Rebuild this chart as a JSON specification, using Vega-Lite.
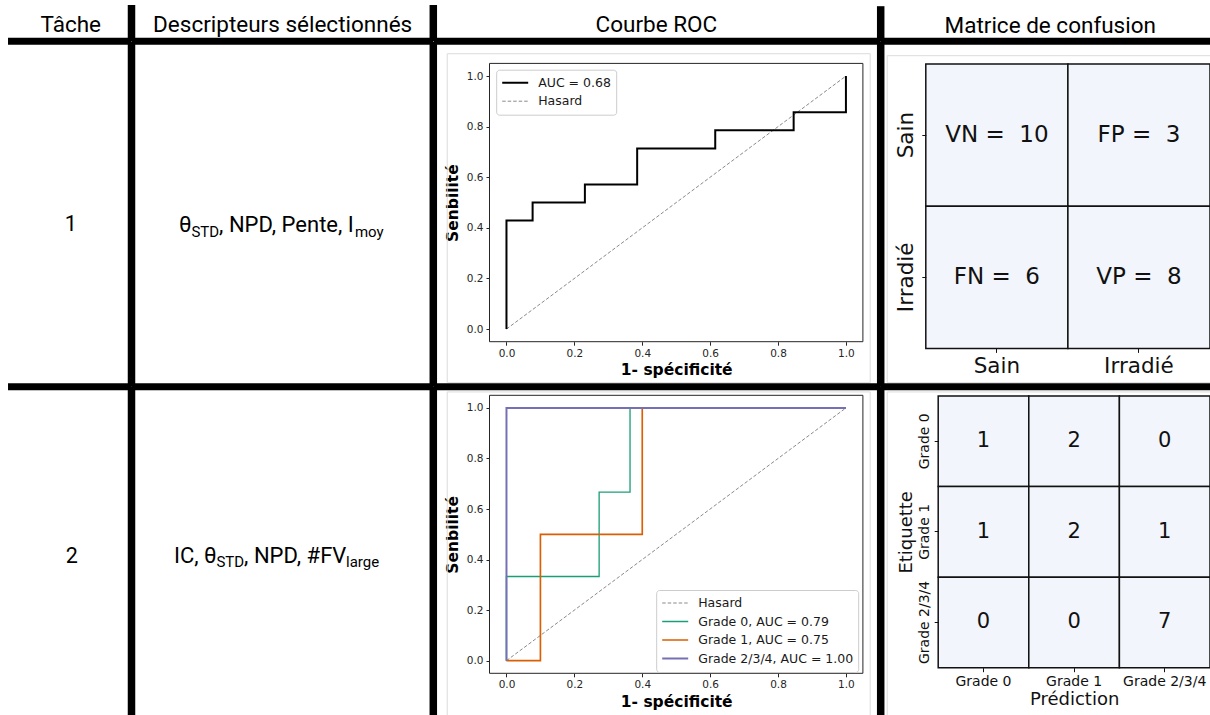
{
 "$schema": "https://vega.github.io/schema/vega-lite/v6.json",
 "background": "white",
 "padding": 0,
 "spacing": 0,
 "bounds": "flush",
 "columns": 4,
 "config": {"view": {"stroke": null}, "font": "DejaVu Sans"},
 "resolve": {
  "scale": {"color": "independent", "strokeDash": "independent", "strokeWidth": "independent"},
  "legend": {"color": "independent", "strokeDash": "independent", "strokeWidth": "independent"}
 },
 "concat": [
  {
   "width": 131.5, "height": 41.3,
   "data": {"values": [{"entete": "Tâche"}]},
   "layer": [
    {"mark": {"type": "text", "font": "Roboto", "fontSize": 22.5, "baseline": "alphabetic", "dx": 5, "dy": 11, "color": "black"}, "encoding": {"text": {"field": "entete"}}},
    {"mark": {"type": "rule", "strokeWidth": 7.5, "color": "black"}, "encoding": {"x": {"datum": 1, "type": "quantitative", "scale": {"domain": [0, 1], "nice": false, "zero": false}, "axis": null}, "y": {"datum": 0, "type": "quantitative", "scale": {"domain": [0, 1], "nice": false, "zero": false}, "axis": null}, "y2": {"datum": 0.879}}},
    {"mark": {"type": "rule", "strokeWidth": 7, "color": "black"}, "encoding": {"y": {"datum": 0, "type": "quantitative"}, "x": {"datum": 0.061, "type": "quantitative"}, "x2": {"datum": 1}}}
   ]
  },
  {
   "width": 301.3, "height": 41.3,
   "data": {"values": [{"entete": "Descripteurs sélectionnés"}]},
   "layer": [
    {"mark": {"type": "text", "font": "Roboto", "fontSize": 22.5, "baseline": "alphabetic", "dx": 0, "dy": 11, "color": "black"}, "encoding": {"text": {"field": "entete"}}},
    {"mark": {"type": "rule", "strokeWidth": 7.5, "color": "black"}, "encoding": {"x": {"datum": 1, "type": "quantitative", "scale": {"domain": [0, 1], "nice": false, "zero": false}, "axis": null}, "y": {"datum": 0, "type": "quantitative", "scale": {"domain": [0, 1], "nice": false, "zero": false}, "axis": null}, "y2": {"datum": 0.879}}},
    {"mark": {"type": "rule", "strokeWidth": 7, "color": "black"}, "encoding": {"y": {"datum": 0, "type": "quantitative"}}}
   ]
  },
  {
   "width": 446.7, "height": 41.3,
   "data": {"values": [{"entete": "Courbe ROC"}]},
   "layer": [
    {"mark": {"type": "text", "font": "Roboto", "fontSize": 22.5, "baseline": "alphabetic", "dx": -1, "dy": 11, "color": "black"}, "encoding": {"text": {"field": "entete"}}},
    {"mark": {"type": "rule", "strokeWidth": 7.5, "color": "black"}, "encoding": {"x": {"datum": 1, "type": "quantitative", "scale": {"domain": [0, 1], "nice": false, "zero": false}, "axis": null}, "y": {"datum": 0, "type": "quantitative", "scale": {"domain": [0, 1], "nice": false, "zero": false}, "axis": null}, "y2": {"datum": 0.85}}},
    {"mark": {"type": "rule", "strokeWidth": 7, "color": "black"}, "encoding": {"y": {"datum": 0, "type": "quantitative"}}}
   ]
  },
  {
   "width": 330.5, "height": 41.3,
   "data": {"values": [{"entete": "Matrice de confusion"}]},
   "layer": [
    {"mark": {"type": "text", "font": "Roboto", "fontSize": 22.5, "baseline": "alphabetic", "dx": 4, "dy": 12.8, "color": "black"}, "encoding": {"text": {"field": "entete"}}},
    {"mark": {"type": "rule", "strokeWidth": 7, "color": "black"}, "encoding": {"y": {"datum": 0, "type": "quantitative", "scale": {"domain": [0, 1], "nice": false, "zero": false}, "axis": null}}}
   ]
  },
  {
   "width": 131.5, "height": 344.7,
   "data": {"values": [{"tache": "1"}]},
   "layer": [
    {"mark": {"type": "text", "font": "Roboto", "fontSize": 21.5, "baseline": "alphabetic", "dx": 5, "dy": 16.65, "color": "black"}, "encoding": {"text": {"field": "tache"}}},
    {"mark": {"type": "rule", "strokeWidth": 7.5, "color": "black"}, "encoding": {"x": {"datum": 1, "type": "quantitative", "scale": {"domain": [0, 1], "nice": false, "zero": false}, "axis": null}}},
    {"mark": {"type": "rule", "strokeWidth": 7, "color": "black"}, "encoding": {"y": {"datum": 0, "type": "quantitative", "scale": {"domain": [0, 1], "nice": false, "zero": false}, "axis": null}, "x": {"datum": 0.061, "type": "quantitative"}, "x2": {"datum": 1}}}
   ]
  },
  {
   "width": 301.3, "height": 344.7,
   "data": {"values": [{"a": "θ", "b": "STD", "c": ", NPD, Pente, I", "d": "moy"}]},
   "layer": [
    {"mark": {"type": "text", "font": "Roboto", "fontSize": 22, "align": "left", "baseline": "alphabetic", "dx": -103.55, "dy": 17.85, "color": "black"}, "encoding": {"text": {"field": "a"}}},
    {"mark": {"type": "text", "font": "Roboto", "fontSize": 15, "align": "left", "baseline": "alphabetic", "dx": -91.25, "dy": 22.35, "color": "black"}, "encoding": {"text": {"field": "b"}}},
    {"mark": {"type": "text", "font": "Roboto", "fontSize": 22, "align": "left", "baseline": "alphabetic", "dx": -63.55, "dy": 17.85, "color": "black"}, "encoding": {"text": {"field": "c"}}},
    {"mark": {"type": "text", "font": "Roboto", "fontSize": 15, "align": "left", "baseline": "alphabetic", "dx": 72.25, "dy": 22.35, "color": "black"}, "encoding": {"text": {"field": "d"}}},
    {"mark": {"type": "rule", "strokeWidth": 7.5, "color": "black"}, "encoding": {"x": {"datum": 1, "type": "quantitative", "scale": {"domain": [0, 1], "nice": false, "zero": false}, "axis": null}}},
    {"mark": {"type": "rule", "strokeWidth": 7, "color": "black"}, "encoding": {"y": {"datum": 0, "type": "quantitative", "scale": {"domain": [0, 1], "nice": false, "zero": false}, "axis": null}}}
   ]
  },
  {
   "width": 446.7, "height": 344.7,
   "resolve": {"scale": {"x": "independent", "y": "independent"}},
   "layer": [
    {
     "data": {"values": [{}]},
     "layer": [
      {"mark": {"type": "rect", "filled": false, "color": "#dcdcdc", "strokeWidth": 1}, "encoding": {"x": {"datum": 0.0296, "type": "quantitative", "scale": {"domain": [0, 1], "nice": false, "zero": false}, "axis": null}, "x2": {"datum": 0.9765}, "y": {"datum": 0.0116, "type": "quantitative", "scale": {"domain": [0, 1], "nice": false, "zero": false}, "axis": null}, "y2": {"datum": 0.966}}},
      {"mark": {"type": "rule", "strokeWidth": 7.5, "color": "black"}, "encoding": {"x": {"datum": 1, "type": "quantitative"}}},
      {"mark": {"type": "rule", "strokeWidth": 7, "color": "black"}, "encoding": {"y": {"datum": 0, "type": "quantitative"}}}
     ]
    },
    {
     "layer": [
      {"data": {"values": [{}]}, "mark": {"type": "rect", "filled": false, "color": "#262626", "strokeWidth": 1},
       "encoding": {
        "x": {"datum": -0.05, "type": "quantitative", "scale": {"domain": [-0.05, 1.05], "range": [55.5, 428.9], "nice": false, "zero": false},
              "axis": {"orient": "bottom", "title": "1- spécificité", "titleFontWeight": "bold", "titleFontSize": 15.5, "titleColor": "black", "titlePadding": 4, "offset": -45, "values": [0, 0.2, 0.4, 0.6, 0.8, 1], "format": ".1f", "labelFontSize": 10.5, "labelColor": "#262626", "tickSize": 3.5, "tickColor": "#262626", "domain": false, "grid": false, "labelPadding": 3, "labelFlush": false, "labelOverlap": false}},
        "x2": {"datum": 1.05},
        "y": {"datum": -0.05, "type": "quantitative", "scale": {"domain": [-0.05, 1.05], "range": [299.7, 21.4], "nice": false, "zero": false},
              "axis": {"orient": "left", "title": "Senbilité", "titleFontWeight": "bold", "titleFontSize": 15.5, "titleColor": "black", "titlePadding": 6, "offset": -55.5, "values": [0, 0.2, 0.4, 0.6, 0.8, 1], "format": ".1f", "labelFontSize": 10.5, "labelColor": "#262626", "tickSize": 3.5, "tickColor": "#262626", "domain": false, "grid": false, "labelPadding": 3, "labelFlush": false, "labelOverlap": false}},
        "y2": {"datum": 1.05}
       }},
      {"data": {"values": [
        {"serie": "Hasard", "i": 0, "fpr": 0, "tpr": 0},
        {"serie": "Hasard", "i": 1, "fpr": 1, "tpr": 1},
        {"serie": "AUC = 0.68", "i": 0, "fpr": 0, "tpr": 0},
        {"serie": "AUC = 0.68", "i": 1, "fpr": 0, "tpr": 0.429},
        {"serie": "AUC = 0.68", "i": 2, "fpr": 0.077, "tpr": 0.429},
        {"serie": "AUC = 0.68", "i": 3, "fpr": 0.077, "tpr": 0.5},
        {"serie": "AUC = 0.68", "i": 4, "fpr": 0.231, "tpr": 0.5},
        {"serie": "AUC = 0.68", "i": 5, "fpr": 0.231, "tpr": 0.571},
        {"serie": "AUC = 0.68", "i": 6, "fpr": 0.385, "tpr": 0.571},
        {"serie": "AUC = 0.68", "i": 7, "fpr": 0.385, "tpr": 0.714},
        {"serie": "AUC = 0.68", "i": 8, "fpr": 0.615, "tpr": 0.714},
        {"serie": "AUC = 0.68", "i": 9, "fpr": 0.615, "tpr": 0.786},
        {"serie": "AUC = 0.68", "i": 10, "fpr": 0.846, "tpr": 0.786},
        {"serie": "AUC = 0.68", "i": 11, "fpr": 0.846, "tpr": 0.857},
        {"serie": "AUC = 0.68", "i": 12, "fpr": 1, "tpr": 0.857},
        {"serie": "AUC = 0.68", "i": 13, "fpr": 1, "tpr": 1}
       ]},
       "mark": {"type": "line"},
       "encoding": {
        "x": {"field": "fpr", "type": "quantitative"},
        "y": {"field": "tpr", "type": "quantitative"},
        "order": {"field": "i", "type": "quantitative"},
        "color": {"field": "serie", "type": "nominal", "scale": {"domain": ["AUC = 0.68", "Hasard"], "range": ["#000000", "#8a8a8a"]},
                  "legend": {"orient": "none", "legendX": 62.2, "legendY": 27.7, "direction": "vertical", "title": null, "symbolType": "stroke", "symbolSize": 676, "labelFontSize": 12.5, "labelColor": "#1a1a1a", "fillColor": "white", "strokeColor": "#cccccc", "cornerRadius": 3, "padding": 5, "rowPadding": 2.5, "labelOffset": 9, "clipHeight": 16}},
        "strokeDash": {"field": "serie", "type": "nominal", "scale": {"domain": ["AUC = 0.68", "Hasard"], "range": [[1, 0], [3.5, 2]]}},
        "strokeWidth": {"field": "serie", "type": "nominal", "scale": {"domain": ["AUC = 0.68", "Hasard"], "range": [2, 1]}}
       }}
     ]
    }
   ]
  },
  {
   "width": 330.5, "height": 344.7,
   "resolve": {"scale": {"x": "independent", "y": "independent"}},
   "layer": [
    {
     "data": {"values": [{}]},
     "layer": [
      {"mark": {"type": "rect", "filled": false, "color": "#dcdcdc", "strokeWidth": 1}, "encoding": {"x": {"datum": 0.0188, "type": "quantitative", "scale": {"domain": [0, 1], "nice": false, "zero": false}, "axis": null}, "x2": {"datum": 1.02}, "y": {"datum": 0.0116, "type": "quantitative", "scale": {"domain": [0, 1], "nice": false, "zero": false}, "axis": null}, "y2": {"datum": 0.9603}}},
      {"mark": {"type": "rule", "strokeWidth": 7, "color": "black"}, "encoding": {"y": {"datum": 0, "type": "quantitative"}}}
     ]
    },
    {
     "data": {"values": [
      {"reel": "Sain", "pred": "Sain", "texte": "VN = \u00a010"},
      {"reel": "Sain", "pred": "Irradié", "texte": "FP = \u00a03"},
      {"reel": "Irradié", "pred": "Sain", "texte": "FN = \u00a06"},
      {"reel": "Irradié", "pred": "Irradié", "texte": "VP = \u00a08"}
     ]},
     "layer": [
      {"mark": {"type": "rect", "fill": "#f2f6fc", "stroke": "#111111", "strokeWidth": 1.5},
       "encoding": {
        "x": {"field": "pred", "type": "nominal", "scale": {"domain": ["Sain", "Irradié"], "range": [44.8, 329], "paddingInner": 0, "paddingOuter": 0},
              "axis": {"orient": "bottom", "offset": -38.3, "title": null, "labelAngle": 0, "labelFontSize": 21.5, "labelColor": "#111111", "tickSize": 4, "tickColor": "#111111", "domain": false, "labelPadding": 3}},
        "y": {"field": "reel", "type": "nominal", "scale": {"domain": ["Sain", "Irradié"], "range": [22, 306.4], "paddingInner": 0, "paddingOuter": 0},
              "axis": {"orient": "left", "offset": -44.8, "title": null, "labelAngle": 270, "labelAlign": "center", "labelBaseline": "bottom", "labelFontSize": 21.5, "labelColor": "#111111", "tickSize": 4, "tickColor": "#111111", "domain": false, "labelPadding": 4}}
       }},
      {"mark": {"type": "text", "fontSize": 23, "color": "#111111"},
       "encoding": {"x": {"field": "pred", "type": "nominal"}, "y": {"field": "reel", "type": "nominal"}, "text": {"field": "texte"}}}
     ]
    }
   ]
  },
  {
   "width": 131.5, "height": 329,
   "data": {"values": [{"tache": "2"}]},
   "layer": [
    {"mark": {"type": "text", "font": "Roboto", "fontSize": 21.5, "baseline": "alphabetic", "dx": 6, "dy": 11, "color": "black"}, "encoding": {"text": {"field": "tache"}}},
    {"mark": {"type": "rule", "strokeWidth": 7.5, "color": "black"}, "encoding": {"x": {"datum": 1, "type": "quantitative", "scale": {"domain": [0, 1], "nice": false, "zero": false}, "axis": null}}}
   ]
  },
  {
   "width": 301.3, "height": 329,
   "data": {"values": [{"a": "IC, θ", "b": "STD", "c": ", NPD, #FV", "d": "large"}]},
   "layer": [
    {"mark": {"type": "text", "font": "Roboto", "fontSize": 22, "align": "left", "baseline": "alphabetic", "dx": -108.75, "dy": 11.2, "color": "black"}, "encoding": {"text": {"field": "a"}}},
    {"mark": {"type": "text", "font": "Roboto", "fontSize": 15, "align": "left", "baseline": "alphabetic", "dx": -66.25, "dy": 15.7, "color": "black"}, "encoding": {"text": {"field": "b"}}},
    {"mark": {"type": "text", "font": "Roboto", "fontSize": 22, "align": "left", "baseline": "alphabetic", "dx": -38.55, "dy": 11.2, "color": "black"}, "encoding": {"text": {"field": "c"}}},
    {"mark": {"type": "text", "font": "Roboto", "fontSize": 15, "align": "left", "baseline": "alphabetic", "dx": 63.35, "dy": 15.7, "color": "black"}, "encoding": {"text": {"field": "d"}}},
    {"mark": {"type": "rule", "strokeWidth": 7.5, "color": "black"}, "encoding": {"x": {"datum": 1, "type": "quantitative", "scale": {"domain": [0, 1], "nice": false, "zero": false}, "axis": null}}}
   ]
  },
  {
   "width": 446.7, "height": 329,
   "resolve": {"scale": {"x": "independent", "y": "independent"}},
   "layer": [
    {
     "data": {"values": [{}]},
     "layer": [
      {"mark": {"type": "rect", "filled": false, "color": "#dcdcdc", "strokeWidth": 1}, "encoding": {"x": {"datum": 0.0296, "type": "quantitative", "scale": {"domain": [0, 1], "nice": false, "zero": false}, "axis": null}, "x2": {"datum": 0.9765}, "y": {"datum": -0.01, "type": "quantitative", "scale": {"domain": [0, 1], "nice": false, "zero": false}, "axis": null}, "y2": {"datum": 0.985}}},
      {"mark": {"type": "rule", "strokeWidth": 7.5, "color": "black"}, "encoding": {"x": {"datum": 1, "type": "quantitative"}}}
     ]
    },
    {
     "layer": [
      {"data": {"values": [{}]}, "mark": {"type": "rect", "filled": false, "color": "#262626", "strokeWidth": 1},
       "encoding": {
        "x": {"datum": -0.05, "type": "quantitative", "scale": {"domain": [-0.05, 1.05], "range": [55.5, 428.9], "nice": false, "zero": false},
              "axis": {"orient": "bottom", "title": "1- spécificité", "titleFontWeight": "bold", "titleFontSize": 15.5, "titleColor": "black", "titlePadding": 4, "offset": -42.7, "values": [0, 0.2, 0.4, 0.6, 0.8, 1], "format": ".1f", "labelFontSize": 10.5, "labelColor": "#262626", "tickSize": 3.5, "tickColor": "#262626", "domain": false, "grid": false, "labelPadding": 3, "labelFlush": false, "labelOverlap": false}},
        "x2": {"datum": 1.05},
        "y": {"datum": -0.05, "type": "quantitative", "scale": {"domain": [-0.05, 1.05], "range": [286.3, 8.3], "nice": false, "zero": false},
              "axis": {"orient": "left", "title": "Senbilité", "titleFontWeight": "bold", "titleFontSize": 15.5, "titleColor": "black", "titlePadding": 6, "offset": -55.5, "values": [0, 0.2, 0.4, 0.6, 0.8, 1], "format": ".1f", "labelFontSize": 10.5, "labelColor": "#262626", "tickSize": 3.5, "tickColor": "#262626", "domain": false, "grid": false, "labelPadding": 3, "labelFlush": false, "labelOverlap": false}},
        "y2": {"datum": 1.05}
       }},
      {"data": {"values": [
        {"serie": "Hasard", "i": 0, "fpr": 0, "tpr": 0},
        {"serie": "Hasard", "i": 1, "fpr": 1, "tpr": 1},
        {"serie": "Grade 0, AUC = 0.79", "i": 0, "fpr": 0, "tpr": 0},
        {"serie": "Grade 0, AUC = 0.79", "i": 1, "fpr": 0, "tpr": 0.333},
        {"serie": "Grade 0, AUC = 0.79", "i": 2, "fpr": 0.273, "tpr": 0.333},
        {"serie": "Grade 0, AUC = 0.79", "i": 3, "fpr": 0.273, "tpr": 0.667},
        {"serie": "Grade 0, AUC = 0.79", "i": 4, "fpr": 0.364, "tpr": 0.667},
        {"serie": "Grade 0, AUC = 0.79", "i": 5, "fpr": 0.364, "tpr": 1},
        {"serie": "Grade 0, AUC = 0.79", "i": 6, "fpr": 1, "tpr": 1},
        {"serie": "Grade 1, AUC = 0.75", "i": 0, "fpr": 0, "tpr": 0},
        {"serie": "Grade 1, AUC = 0.75", "i": 1, "fpr": 0.1, "tpr": 0},
        {"serie": "Grade 1, AUC = 0.75", "i": 2, "fpr": 0.1, "tpr": 0.5},
        {"serie": "Grade 1, AUC = 0.75", "i": 3, "fpr": 0.4, "tpr": 0.5},
        {"serie": "Grade 1, AUC = 0.75", "i": 4, "fpr": 0.4, "tpr": 1},
        {"serie": "Grade 1, AUC = 0.75", "i": 5, "fpr": 1, "tpr": 1},
        {"serie": "Grade 2/3/4, AUC = 1.00", "i": 0, "fpr": 0, "tpr": 0},
        {"serie": "Grade 2/3/4, AUC = 1.00", "i": 1, "fpr": 0, "tpr": 1},
        {"serie": "Grade 2/3/4, AUC = 1.00", "i": 2, "fpr": 1, "tpr": 1}
       ]},
       "mark": {"type": "line"},
       "encoding": {
        "x": {"field": "fpr", "type": "quantitative"},
        "y": {"field": "tpr", "type": "quantitative"},
        "order": {"field": "i", "type": "quantitative"},
        "color": {"field": "serie", "type": "nominal", "scale": {"domain": ["Hasard", "Grade 0, AUC = 0.79", "Grade 1, AUC = 0.75", "Grade 2/3/4, AUC = 1.00"], "range": ["#8a8a8a", "#1b9e77", "#d95f02", "#7570b3"]},
                  "legend": {"orient": "none", "legendX": 222.2, "legendY": 203, "direction": "vertical", "title": null, "symbolType": "stroke", "symbolSize": 676, "labelFontSize": 12.5, "labelColor": "#1a1a1a", "fillColor": "white", "strokeColor": "#cccccc", "cornerRadius": 3, "padding": 5, "rowPadding": 2.5, "labelOffset": 9, "clipHeight": 16}},
        "strokeDash": {"field": "serie", "type": "nominal", "scale": {"domain": ["Hasard", "Grade 0, AUC = 0.79", "Grade 1, AUC = 0.75", "Grade 2/3/4, AUC = 1.00"], "range": [[3.5, 2], [1, 0], [1, 0], [1, 0]]}},
        "strokeWidth": {"field": "serie", "type": "nominal", "scale": {"domain": ["Hasard", "Grade 0, AUC = 0.79", "Grade 1, AUC = 0.75", "Grade 2/3/4, AUC = 1.00"], "range": [1, 2, 2, 2]}}
       }}
     ]
    }
   ]
  },
  {
   "width": 330.5, "height": 329,
   "resolve": {"scale": {"x": "independent", "y": "independent"}},
   "layer": [
    {
     "data": {"values": [{}]},
     "layer": [
      {"mark": {"type": "rect", "filled": false, "color": "#dcdcdc", "strokeWidth": 1}, "encoding": {"x": {"datum": 0.0188, "type": "quantitative", "scale": {"domain": [0, 1], "nice": false, "zero": false}, "axis": null}, "x2": {"datum": 1.02}, "y": {"datum": -0.01, "type": "quantitative", "scale": {"domain": [0, 1], "nice": false, "zero": false}, "axis": null}, "y2": {"datum": 0.985}}}
     ]
    },
    {
     "data": {"values": [
      {"etiquette": "Grade 0", "prediction": "Grade 0", "n": 1},
      {"etiquette": "Grade 0", "prediction": "Grade 1", "n": 2},
      {"etiquette": "Grade 0", "prediction": "Grade 2/3/4", "n": 0},
      {"etiquette": "Grade 1", "prediction": "Grade 0", "n": 1},
      {"etiquette": "Grade 1", "prediction": "Grade 1", "n": 2},
      {"etiquette": "Grade 1", "prediction": "Grade 2/3/4", "n": 1},
      {"etiquette": "Grade 2/3/4", "prediction": "Grade 0", "n": 0},
      {"etiquette": "Grade 2/3/4", "prediction": "Grade 1", "n": 0},
      {"etiquette": "Grade 2/3/4", "prediction": "Grade 2/3/4", "n": 7}
     ]},
     "layer": [
      {"mark": {"type": "rect", "fill": "#f2f6fc", "stroke": "#111111", "strokeWidth": 1.5},
       "encoding": {
        "x": {"field": "prediction", "type": "nominal", "scale": {"domain": ["Grade 0", "Grade 1", "Grade 2/3/4"], "range": [57.2, 329], "paddingInner": 0, "paddingOuter": 0},
              "axis": {"orient": "bottom", "offset": -48.3, "title": "Prédiction", "titleFontSize": 18, "titleFontWeight": "normal", "titleColor": "#111111", "titlePadding": 2, "labelAngle": 0, "labelFontSize": 14, "labelColor": "#111111", "tickSize": 4, "tickColor": "#111111", "domain": false, "labelPadding": 3}},
        "y": {"field": "etiquette", "type": "nominal", "scale": {"domain": ["Grade 0", "Grade 1", "Grade 2/3/4"], "range": [9, 280.7], "paddingInner": 0, "paddingOuter": 0},
              "axis": {"orient": "left", "offset": -57.2, "title": "Etiquette", "titleFontSize": 18, "titleFontWeight": "normal", "titleColor": "#111111", "titlePadding": 2, "labelAngle": 270, "labelAlign": "center", "labelBaseline": "bottom", "labelFontSize": 14, "labelColor": "#111111", "tickSize": 4, "tickColor": "#111111", "domain": false, "labelPadding": 3}}
       }},
      {"mark": {"type": "text", "fontSize": 21, "color": "#111111"},
       "encoding": {"x": {"field": "prediction", "type": "nominal"}, "y": {"field": "etiquette", "type": "nominal"}, "text": {"field": "n", "type": "quantitative"}}}
     ]
    }
   ]
  }
 ]
}
